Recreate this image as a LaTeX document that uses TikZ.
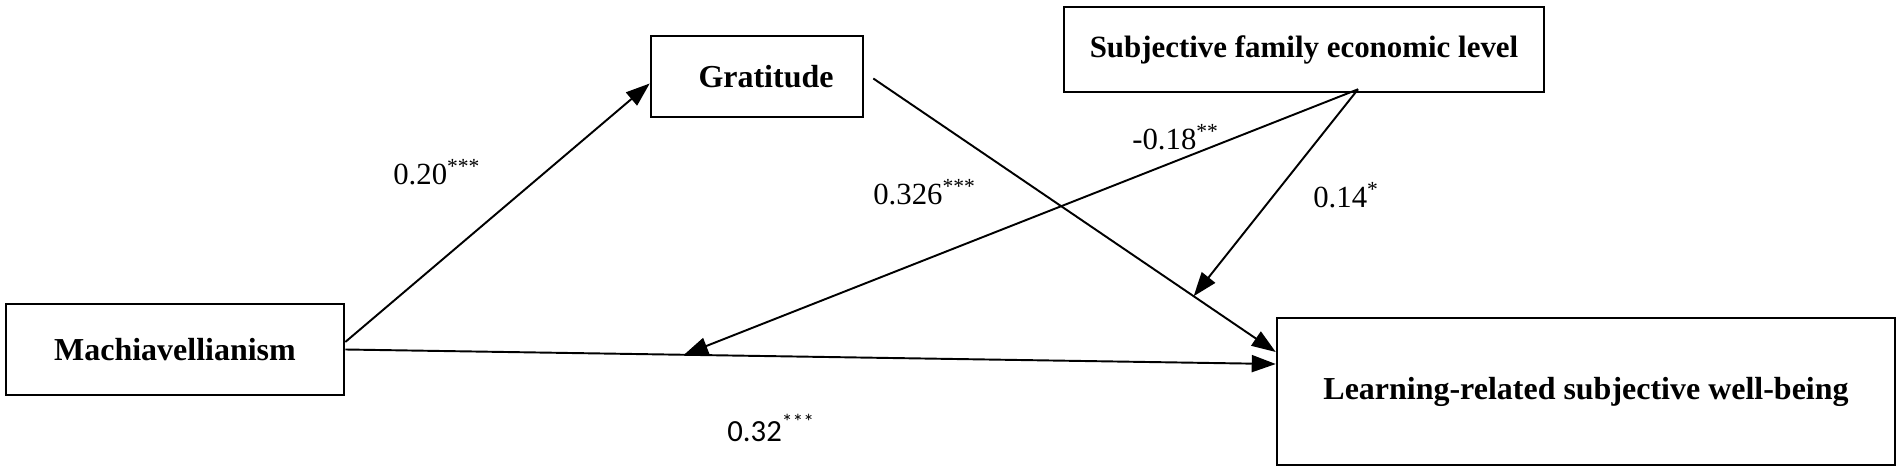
\documentclass[tikz,border=0pt]{standalone}
\usepackage{fontspec}
\setmainfont{Liberation Serif}
\newfontfamily\calibri{Carlito}
\usetikzlibrary{arrows.meta}
\tikzset{box/.style={draw, line width=1.5pt, inner sep=0pt, font=\fontsize{18.2}{20}\selectfont\bfseries}}
\tikzset{effect/.style={line width=1.1pt, -{Triangle[length=0.48cm,width=0.34cm]}}}
\tikzset{coef/.style={anchor=base west, inner sep=0pt, font=\fontsize{17.5}{19}\selectfont}}

\begin{document}
\begin{tikzpicture}[x=0.02cm, y=-0.02cm]
\useasboundingbox (0,0) rectangle (1902,472);
\node[box, minimum width=6.76cm, minimum height=1.82cm] (mach) at (175,349.5) {Machiavellianism};
\node[box, minimum width=4.24cm, minimum height=1.62cm] (grat) at (757,76.5) {\hspace*{0.36cm}Gratitude};
\node[box, minimum width=9.6cm, minimum height=1.7cm, font=\fontsize{17.6}{20}\selectfont\bfseries] (sfel) at (1304,49.5) {Subjective family economic level};
\node[box, minimum width=12.36cm, minimum height=2.94cm] (lrsw) at (1586,391.5) {Learning-related subjective well-being};
% paths
\draw[effect] ([yshift=0.15cm]mach.east) -- ([yshift=-0.14cm]grat.west);
\draw[effect] ([xshift=0.18cm,yshift=-0.04cm]grat.east) -- node[pos=0.796, coordinate] (g1) {} ([yshift=0.79cm]lrsw.west);
\draw[effect] (mach.east) -- node[pos=0.364, coordinate] (m1) {} ([yshift=0.55cm]lrsw.west);
% moderator
\coordinate (s0) at ([xshift=1.08cm,yshift=0.08cm]sfel.south);
\draw[effect] (s0) -- (m1);
\draw[effect] (s0) -- (g1);
% coefficients
\node[coef] (c1) at (393,185) {0.20\textsuperscript{***}};
\node[coef] (c2) at (873,205) {0.326\textsuperscript{***}};
\node[coef] (c3) at (1132,150) {-0.18\textsuperscript{**}};
\node[coef] (c4) at (1313,208) {0.14\textsuperscript{*}};
\node[coef, font=\fontsize{17.5}{19}\selectfont\calibri] (c5) at (727,441) {0.32\textsuperscript{***}};
\end{tikzpicture}
\end{document}
